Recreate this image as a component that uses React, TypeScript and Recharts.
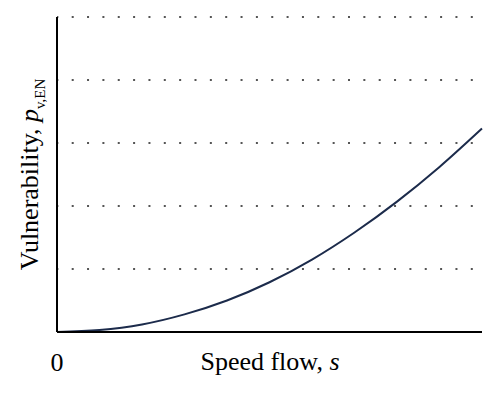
import React from 'react';
import { LineChart, Line, XAxis, YAxis, CartesianGrid } from 'recharts';

const speedFlow = [0, 0.1, 0.2, 0.3, 0.4, 0.5, 0.6, 0.7, 0.8, 0.9, 1.0];
const vulnerability = [0, 0.03, 0.12, 0.28, 0.5, 0.79, 1.15, 1.58, 2.07, 2.62, 3.23];
const xTicks = [0];
const yGrid = [0, 1, 2, 3, 4, 5];

const data = speedFlow.map((s, i) => ({ s, v: vulnerability[i] }));

const FONT = '"Liberation Serif", "Times New Roman", serif';

const XTick = (props: any) => {
  const { x, payload } = props;
  return (
    <text x={x} y={371} textAnchor="middle" fontFamily={FONT} fontSize={26} fill="#000">
      {payload.value}
    </text>
  );
};

// y ticks are only there to place the dotted grid, no labels
const NoTick = () => <g />;

export default function App() {
  return (
    <div style={{ position: 'absolute', left: 0, top: 0, width: 500, height: 394, background: '#fff' }}>
      <LineChart width={500} height={394} data={data} margin={{ top: 17, right: 18, left: 0, bottom: 0 }}>
        <CartesianGrid
          vertical={false}
          stroke="#555"
          strokeWidth={2}
          strokeDasharray="2 13.35"
          strokeDashoffset={-14.7}
        />
        <XAxis
          dataKey="s"
          type="number"
          domain={[0, 1]}
          ticks={xTicks}
          height={62}
          tickLine={false}
          axisLine={{ stroke: '#000', strokeWidth: 2 }}
          tick={<XTick />}
        />
        <YAxis
          type="number"
          domain={[0, 5]}
          ticks={yGrid}
          width={57}
          tick={<NoTick />}
          tickLine={false}
          axisLine={{ stroke: '#000', strokeWidth: 2 }}
        />
        <Line
          dataKey="v"
          type="monotone"
          stroke="#1c2b4b"
          strokeWidth={2}
          dot={false}
          isAnimationActive={false}
        />
        <text x={270} y={370} textAnchor="middle" fontFamily={FONT} fontSize={26} fill="#000">
          Speed flow, <tspan fontStyle="italic">s</tspan>
        </text>
        <text
          x={38}
          y={174.5}
          transform="rotate(-90 38 174.5)"
          textAnchor="middle"
          fontFamily={FONT}
          fontSize={26}
          fill="#000"
        >
          Vulnerability, <tspan fontStyle="italic">p</tspan>
          <tspan fontSize={15} dy={7}>v,EN</tspan>
        </text>
      </LineChart>
    </div>
  );
}
